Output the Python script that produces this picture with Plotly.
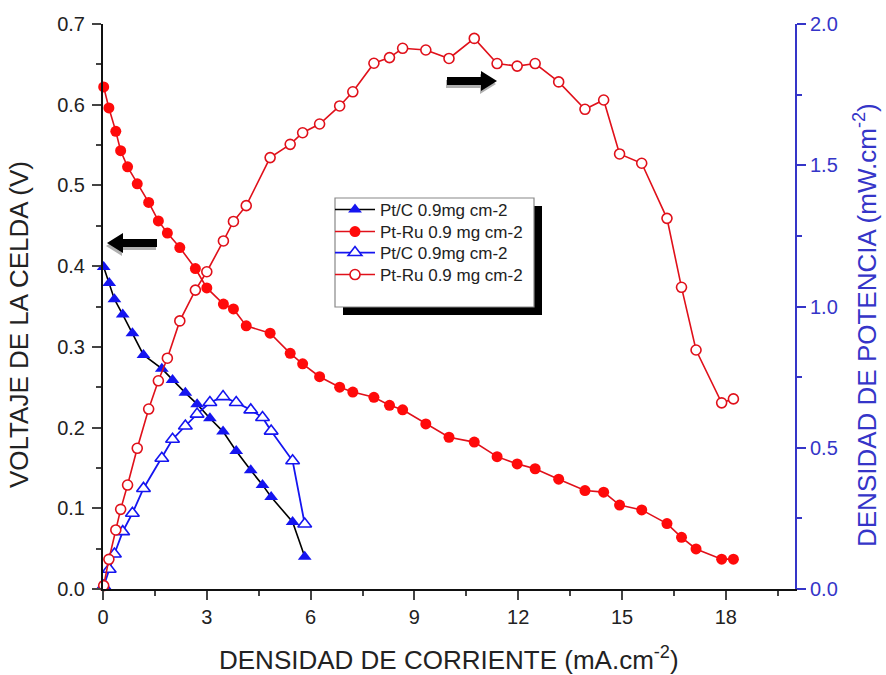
import plotly.graph_objects as go

# ---------------- data ----------------
# Pt/C 0.9 mg cm-2
ptc_current = [0.02, 0.18, 0.33, 0.57, 0.85, 1.17, 1.70, 2.01, 2.38, 2.72,
               3.09, 3.47, 3.85, 4.27, 4.61, 4.86, 5.48, 5.83]
ptc_voltage = [0.399, 0.379, 0.359, 0.340, 0.317, 0.290, 0.273, 0.259, 0.243, 0.229,
               0.2115, 0.195, 0.171, 0.147, 0.129, 0.114, 0.083, 0.040]
ptc_power = [0.010, 0.070, 0.124, 0.203, 0.268, 0.356, 0.463, 0.530, 0.577, 0.619,
             0.660, 0.681, 0.660, 0.634, 0.607, 0.559, 0.454, 0.230]

# Pt-Ru 0.9 mg cm-2
ptru_current = [0.02, 0.17, 0.37, 0.51, 0.71, 0.99, 1.32, 1.60, 1.86, 2.22,
                2.67, 3.00, 3.48, 3.77, 4.14, 4.83, 5.41, 5.77, 6.26, 6.84,
                7.22, 7.83, 8.28, 8.66, 9.33, 10.00, 10.73, 11.39, 11.97, 12.49,
                13.17, 13.93, 14.47, 14.93, 15.57, 16.30, 16.72, 17.14, 17.88, 18.22]
ptru_voltage = [0.622, 0.596, 0.567, 0.543, 0.523, 0.502, 0.479, 0.456, 0.441, 0.423,
                0.397, 0.373, 0.353, 0.347, 0.326, 0.317, 0.292, 0.279, 0.263, 0.250,
                0.244, 0.2375, 0.2276, 0.222, 0.2045, 0.188, 0.182, 0.164, 0.155, 0.149,
                0.136, 0.122, 0.120, 0.104, 0.098, 0.081, 0.064, 0.0496, 0.037, 0.037]
ptru_power = [0.012, 0.105, 0.209, 0.282, 0.368, 0.498, 0.637, 0.737, 0.817, 0.949,
              1.058, 1.123, 1.232, 1.301, 1.357, 1.527, 1.574, 1.615, 1.646, 1.710,
              1.760, 1.861, 1.881, 1.914, 1.908, 1.878, 1.949, 1.860, 1.851, 1.860,
              1.795, 1.698, 1.731, 1.540, 1.507, 1.312, 1.068, 0.846, 0.659, 0.673]

legend_names = ["Pt/C 0.9mg cm-2", "Pt-Ru 0.9 mg cm-2", "Pt/C 0.9mg cm-2", "Pt-Ru 0.9 mg cm-2"]

x_ticks = [0, 3, 6, 9, 12, 15, 18]

# ---------------- layout constants ----------------
W, H = 886, 675
ML, MR, MT, MB = 103, 91, 24, 86
PW, PH = W - ML - MR, H - MT - MB
FONT = "Liberation Sans, Arial, sans-serif"
RED = "#ff0a0a"
RED_LINE = "#e0101a"
BLUE = "#1515f0"
AXBLUE = "#3535c8"
TITLE_SIZE = 26


def px_to_paper(px, py):
    return (px - ML) / PW, (H - MB - py) / PH


legend_ids = ["legend", "legend2", "legend3", "legend4"]

fig = go.Figure()

fig.add_trace(go.Scatter(
    x=ptc_current, y=ptc_voltage, name=legend_names[0], legend=legend_ids[0],
    mode="lines+markers", line=dict(color="black", width=1.6),
    marker=dict(symbol="triangle-up", size=12, color=BLUE, line=dict(width=0)),
    cliponaxis=False))
fig.add_trace(go.Scatter(
    x=ptru_current, y=ptru_voltage, name=legend_names[1], legend=legend_ids[1],
    mode="lines+markers", line=dict(color=RED_LINE, width=1.6),
    marker=dict(symbol="circle", size=11, color=RED, line=dict(width=0)),
    cliponaxis=False))
fig.add_trace(go.Scatter(
    x=ptc_current, y=ptc_power, name=legend_names[2], legend=legend_ids[2],
    mode="lines+markers", yaxis="y2", line=dict(color=BLUE, width=1.8),
    marker=dict(symbol="triangle-up", size=12, color="white", line=dict(color=BLUE, width=1.6)),
    cliponaxis=False))
fig.add_trace(go.Scatter(
    x=ptru_current, y=ptru_power, name=legend_names[3], legend=legend_ids[3],
    mode="lines+markers", yaxis="y2", line=dict(color=RED_LINE, width=1.6),
    marker=dict(symbol="circle", size=10, color="white", line=dict(color=RED_LINE, width=1.6)),
    cliponaxis=False))

# ---------------- legend box + shadow ----------------
bx0, by0, bx1, by1 = 335, 198, 534, 307
sh = 8
sx0, sy1 = px_to_paper(bx0 + sh, by1 + sh)
sx1, sy0 = px_to_paper(bx1 + sh, by0 + sh)
fig.add_shape(type="rect", xref="paper", yref="paper", x0=sx0, x1=sx1, y0=sy1, y1=sy0,
              fillcolor="black", line=dict(width=0), layer="above")
lx0, ly1 = px_to_paper(bx0, by1)
lx1, ly0 = px_to_paper(bx1, by0)
fig.add_shape(type="rect", xref="paper", yref="paper", x0=lx0, x1=lx1, y0=ly1, y1=ly0,
              fillcolor="white", line=dict(color="#888888", width=1.2), layer="above")


# ---------------- arrows ----------------
def arrow_path(tip_px, tip_py, length, direction, body=8, head_h=20, head_l=16, dx=0, dy=0):
    s = 1 if direction == "right" else -1
    tx, ty = tip_px + dx, tip_py + dy
    base = tx - s * head_l
    tail = tx - s * length
    pts = [(tx, ty), (base, ty - head_h / 2), (base, ty - body / 2), (tail, ty - body / 2),
           (tail, ty + body / 2), (base, ty + body / 2), (base, ty + head_h / 2)]
    pp = [px_to_paper(a, b) for a, b in pts]
    return "M " + " L ".join(f"{a:.5f},{b:.5f}" for a, b in pp) + " Z"


for tip, direction in [((107, 243), "left"), ((497, 81), "right")]:
    fig.add_shape(type="path", xref="paper", yref="paper",
                  path=arrow_path(tip[0], tip[1], 50, direction, dx=-1, dy=3),
                  fillcolor="#b0b0b0", line=dict(width=0), layer="above")
    fig.add_shape(type="path", xref="paper", yref="paper",
                  path=arrow_path(tip[0], tip[1], 50, direction),
                  fillcolor="black", line=dict(width=0), layer="above")

# ---------------- titles ----------------
tx, ty = px_to_paper(19, 325)
fig.add_annotation(text="VOLTAJE DE LA CELDA (V)", xref="paper", yref="paper", x=tx, y=ty,
                   xanchor="center", yanchor="middle", textangle=-90, showarrow=False,
                   font=dict(family=FONT, size=TITLE_SIZE, color="#222"))
tx, ty = px_to_paper(865, 325)
fig.add_annotation(text="DENSIDAD DE POTENCIA (mW.cm<sup>-2</sup>)", xref="paper", yref="paper",
                   x=tx, y=ty, xanchor="center", yanchor="middle", textangle=-90,
                   showarrow=False, font=dict(family=FONT, size=TITLE_SIZE, color=AXBLUE))
tx, ty = px_to_paper(449, 658)
fig.add_annotation(text="DENSIDAD DE CORRIENTE (mA.cm<sup>-2</sup>)", xref="paper", yref="paper",
                   x=tx, y=ty, xanchor="center", yanchor="middle", showarrow=False,
                   font=dict(family=FONT, size=TITLE_SIZE, color="#222"))

# one single-entry legend per row, so the rows sit as tight as in the original
row_centers_px = [210, 232, 253, 275]
legend_layouts = {}
for lid, ry in zip(legend_ids, row_centers_px):
    lgx, lgy = px_to_paper(330, ry)
    legend_layouts[lid] = dict(x=lgx, y=lgy, xanchor="left", yanchor="middle",
                               bgcolor="rgba(0,0,0,0)", borderwidth=0,
                               font=dict(family=FONT, size=17, color="#222"), itemwidth=40)

fig.update_layout(
    width=W, height=H,
    margin=dict(l=ML, r=MR, t=MT, b=MB, pad=0),
    paper_bgcolor="white", plot_bgcolor="white",
    font=dict(family=FONT, size=20, color="#222"),
    showlegend=True,
    **legend_layouts,
    xaxis=dict(range=[0, 20], tickvals=x_ticks, ticks="outside", ticklen=9, tickwidth=1.6,
               showline=True, linecolor="#111", linewidth=2, showgrid=False, zeroline=False,
               minor=dict(ticks="outside", ticklen=5, tickwidth=1.6, dtick=1.5, tick0=0,
                          showgrid=False),
               tickfont=dict(size=20)),
    xaxis2=dict(range=[0, 20], overlaying="x", side="top", anchor="y", tickvals=x_ticks,
                ticks="inside", ticklen=9, tickwidth=1.6, showticklabels=False,
                showline=True, linecolor="#111", linewidth=2, showgrid=False, zeroline=False,
                minor=dict(ticks="inside", ticklen=5, tickwidth=1.6, dtick=1.5, tick0=0,
                           showgrid=False)),
    yaxis=dict(range=[0, 0.7], dtick=0.1, tickformat=".1f", ticks="outside", ticklen=9,
               tickwidth=1.6, showline=True, linecolor="#111", linewidth=2, showgrid=False,
               zeroline=False, ticklabelstandoff=3,
               minor=dict(ticks="outside", ticklen=5, tickwidth=1.6, dtick=0.05, showgrid=False),
               tickfont=dict(size=20)),
    yaxis2=dict(range=[0, 2.0], dtick=0.5, tickformat=".1f", overlaying="y", side="right",
                ticks="outside", ticklen=9, tickwidth=1.6, tickcolor=AXBLUE,
                showline=True, linecolor=AXBLUE, linewidth=2, showgrid=False, zeroline=False,
                minor=dict(ticks="outside", ticklen=5, tickwidth=1.6, dtick=0.25,
                           tickcolor=AXBLUE, showgrid=False),
                tickfont=dict(size=20, color=AXBLUE)),
)

fig.write_html("out.html")
